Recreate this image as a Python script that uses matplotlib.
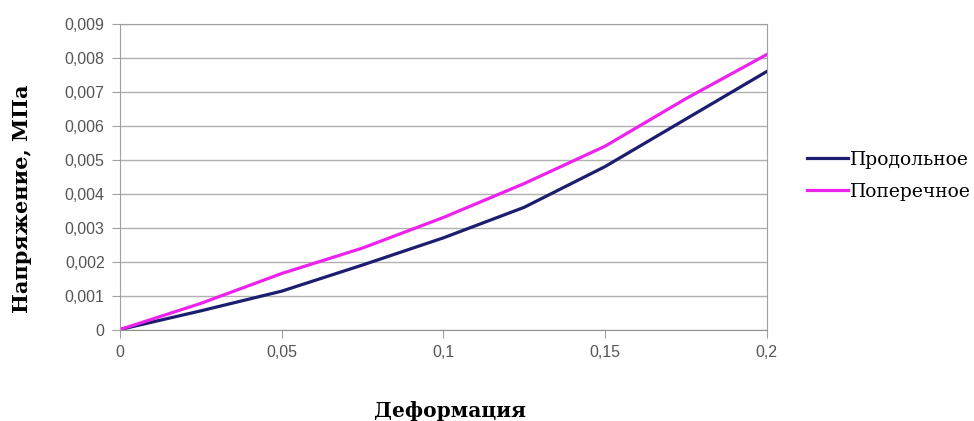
import matplotlib.pyplot as plt
from matplotlib.ticker import FuncFormatter

# Strain values and stresses
deformation = [0, 0.025, 0.05, 0.075, 0.1, 0.125, 0.15, 0.175, 0.2]
longitudinal = [0, 0.00055, 0.00113, 0.0019, 0.0027, 0.0036, 0.0048, 0.0062, 0.0076]
transverse = [0, 0.00077, 0.00165, 0.0024, 0.0033, 0.0043, 0.0054, 0.0068, 0.0081]
series_names = ['Продольное', 'Поперечное']

xticks = [0, 0.05, 0.1, 0.15, 0.2]
yticks = [0, 0.001, 0.002, 0.003, 0.004, 0.005, 0.006, 0.007, 0.008, 0.009]


def comma(v, pos):
    s = ('%.3f' % v).rstrip('0').rstrip('.')
    return s.replace('.', ',')


fig = plt.figure(figsize=(9.74, 4.21), dpi=100)
ax = fig.add_axes([0.1232, 0.2173, 0.664, 0.7257])

ax.plot(deformation, longitudinal, color='#1c1c70', lw=2.3, label=series_names[0])
ax.plot(deformation, transverse, color='#ee22ee', lw=2.3, label=series_names[1])

ax.set_xlim(0, 0.2)
ax.set_ylim(0, 0.009)
ax.set_xticks(xticks)
ax.set_yticks(yticks)
ax.xaxis.set_major_formatter(FuncFormatter(comma))
ax.yaxis.set_major_formatter(FuncFormatter(comma))
ax.grid(axis='y', color='#b0b0b0', lw=1)
ax.set_axisbelow(True)
for sp in ax.spines.values():
    sp.set_color('#a0a0a0')
ax.spines['bottom'].set_color('#909090')
ax.tick_params(axis='both', length=6, color='#a0a0a0', labelcolor='#555555',
               labelsize=11.5, labelfontfamily='Liberation Sans')
ax.tick_params(axis='x', pad=5)
ax.tick_params(axis='y', pad=5)

ax.set_xlabel('Деформация', family='DejaVu Serif', fontweight='bold',
              fontsize=14.5, va='center')
ax.xaxis.set_label_coords(0.51, -0.267)
ax.set_ylabel('Напряжение, МПа', family='DejaVu Serif', fontweight='bold',
              fontsize=15, va='center')
ax.yaxis.set_label_coords(-0.152, 0.427)

fig.legend(loc='center left', bbox_to_anchor=(0.8285, 0.582), frameon=False,
           prop={'family': 'DejaVu Serif', 'size': 13.5}, handlelength=2.2,
           handletextpad=0.1, labelspacing=0.75, borderpad=0, borderaxespad=0)

fig.savefig('out.png', dpi=100)
